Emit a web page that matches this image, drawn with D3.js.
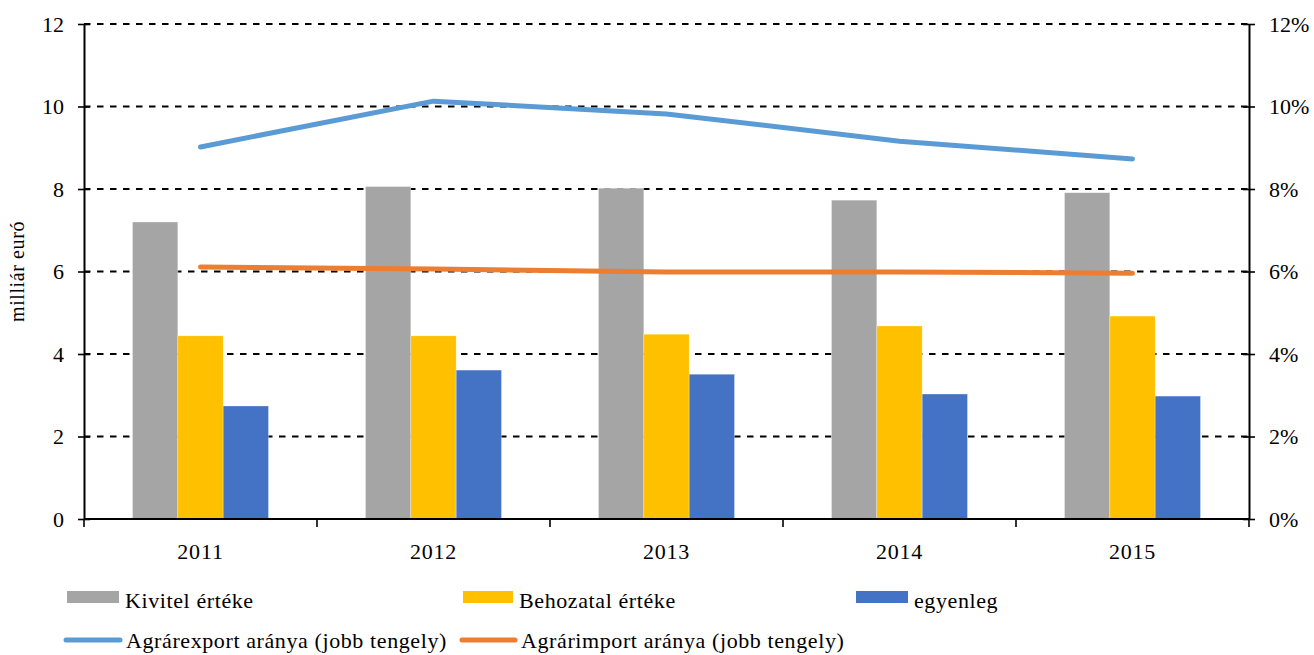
<!DOCTYPE html>
<html>
<head>
<meta charset="utf-8">
<title></title>
<script src="https://cdn.jsdelivr.net/npm/d3@7"></script>
<style>
  body { margin: 0; background: #fff; }
  text { font-family: "Liberation Serif", "Times New Roman", serif; fill: #000; }
</style>
</head>
<body>
<script>
  // data
  var years = ["2011", "2012", "2013", "2014", "2015"];
  var kivitel = [7.20, 8.06, 8.02, 7.73, 7.91];
  var behozatal = [4.44, 4.44, 4.48, 4.68, 4.92];
  var egyenleg = [2.74, 3.61, 3.51, 3.03, 2.98];
  var exportShare = [9.02, 10.13, 9.82, 9.16, 8.73];
  var importShare = [6.11, 6.06, 5.99, 5.99, 5.96];
  var leftTicks = [0, 2, 4, 6, 8, 10, 12];
  var rightTicks = [0, 2, 4, 6, 8, 10, 12];

  var barSeries = [
    { name: "Kivitel értéke", values: kivitel, color: "#A5A5A5" },
    { name: "Behozatal értéke", values: behozatal, color: "#FFC000" },
    { name: "egyenleg", values: egyenleg, color: "#4472C4" }
  ];
  var lineSeries = [
    { name: "Agrárexport aránya (jobb tengely)", values: exportShare, color: "#5B9BD5" },
    { name: "Agrárimport aránya (jobb tengely)", values: importShare, color: "#ED7D31" }
  ];

  var w = 1314, h = 655;
  var mLeft = 84, mRight = 1249, mTop = 24, mBottom = 519;

  var svg = d3.select("body").append("svg").attr("width", w).attr("height", h);

  var x = d3.scaleBand().domain(years).range([mLeft, mRight]).paddingInner(0).paddingOuter(0);
  var xInner = d3.scaleBand().domain(d3.range(barSeries.length))
                 .range([0, x.bandwidth()]).paddingOuter(1.07).paddingInner(0);
  var yL = d3.scaleLinear().domain([0, 12]).range([mBottom, mTop]);
  var yR = d3.scaleLinear().domain([0, 12]).range([mBottom, mTop]);

  // gridlines
  svg.append("g").selectAll("line").data(leftTicks.filter(function (d) { return d > 0; }))
    .join("line")
    .attr("x1", mLeft).attr("x2", mRight)
    .attr("y1", function (d) { return yL(d); }).attr("y2", function (d) { return yL(d); })
    .attr("stroke", "#000").attr("stroke-width", 1.8).attr("stroke-dasharray", "6.5,6.5");

  // bars
  barSeries.forEach(function (s, si) {
    svg.append("g").selectAll("rect").data(s.values).join("rect")
      .attr("x", function (d, i) { return x(years[i]) + xInner(si); })
      .attr("width", xInner.bandwidth())
      .attr("y", function (d) { return yL(d); })
      .attr("height", function (d) { return yL(0) - yL(d); })
      .attr("fill", s.color)
      .attr("stroke", "#fff").attr("stroke-opacity", 0.5).attr("stroke-width", 0.6);
  });

  // lines
  var line = d3.line()
    .x(function (d, i) { return x(years[i]) + x.bandwidth() / 2; })
    .y(function (d) { return yR(d); });
  lineSeries.forEach(function (s) {
    svg.append("path").datum(s.values)
      .attr("d", line).attr("fill", "none")
      .attr("stroke", s.color).attr("stroke-width", 5)
      .attr("stroke-linecap", "round").attr("stroke-linejoin", "round");
  });

  // axes
  var axisL = d3.axisLeft(yL).tickValues(leftTicks).tickSize(0).tickPadding(20);
  var gL = svg.append("g").attr("transform", "translate(" + mLeft + ",0)").call(axisL);
  var axisR = d3.axisRight(yR).tickValues(rightTicks).tickSize(0).tickPadding(20)
                .tickFormat(function (d) { return d + "%"; });
  var gR = svg.append("g").attr("transform", "translate(" + mRight + ",0)").call(axisR);
  [gL, gR].forEach(function (g) {
    g.select(".domain").attr("stroke", "#000").attr("stroke-width", 2);
    g.selectAll(".tick text").style("font-size", "22px").style("font-family", "Liberation Serif");
    g.selectAll(".tick").append("line")
      .attr("x1", -6).attr("x2", 6).attr("stroke", "#000").attr("stroke-width", 1.6);
  });

  // x axis
  var gX = svg.append("g").attr("transform", "translate(0," + mBottom + ")");
  gX.append("line").attr("x1", mLeft).attr("x2", mRight).attr("stroke", "#000").attr("stroke-width", 2);
  var bounds = years.map(function (y) { return x(y); }).concat([mRight]);
  gX.selectAll("line.tk").data(bounds).join("line").attr("class", "tk")
    .attr("x1", function (d) { return d; }).attr("x2", function (d) { return d; })
    .attr("y1", 0).attr("y2", 8).attr("stroke", "#000").attr("stroke-width", 1.6);
  gX.selectAll("text").data(years).join("text")
    .attr("x", function (d) { return x(d) + x.bandwidth() / 2; })
    .attr("y", 40).attr("text-anchor", "middle")
    .style("font-size", "22px").style("letter-spacing", "0.8px").text(function (d) { return d; });

  // y title
  svg.append("text")
    .attr("transform", "translate(24," + yL(6) + ") rotate(-90)")
    .attr("text-anchor", "middle").style("font-size", "20px").style("letter-spacing", "0.6px")
    .text("milliár euró");

  // legend
  var legBars = [{ x: 67, w: 52 }, { x: 463, w: 50 }, { x: 856, w: 52 }];
  barSeries.forEach(function (s, i) {
    var g = svg.append("g").attr("transform", "translate(" + legBars[i].x + ",591)");
    g.append("rect").attr("width", legBars[i].w).attr("height", 12).attr("fill", s.color);
    g.append("text").attr("x", legBars[i].w + 6).attr("y", 17)
      .style("font-size", "22px").style("letter-spacing", "0.6px").text(s.name);
  });
  var legLines = [{ x: 66, w: 54 }, { x: 462, w: 53 }];
  lineSeries.forEach(function (s, i) {
    var g = svg.append("g").attr("transform", "translate(" + legLines[i].x + ",640)");
    g.append("line").attr("x1", 0).attr("x2", legLines[i].w)
      .attr("stroke", s.color).attr("stroke-width", 5).attr("stroke-linecap", "round");
    g.append("text").attr("x", legLines[i].w + 6).attr("y", 8)
      .style("font-size", "22px").style("letter-spacing", "0.6px").text(s.name);
  });
</script>
</body>
</html>
